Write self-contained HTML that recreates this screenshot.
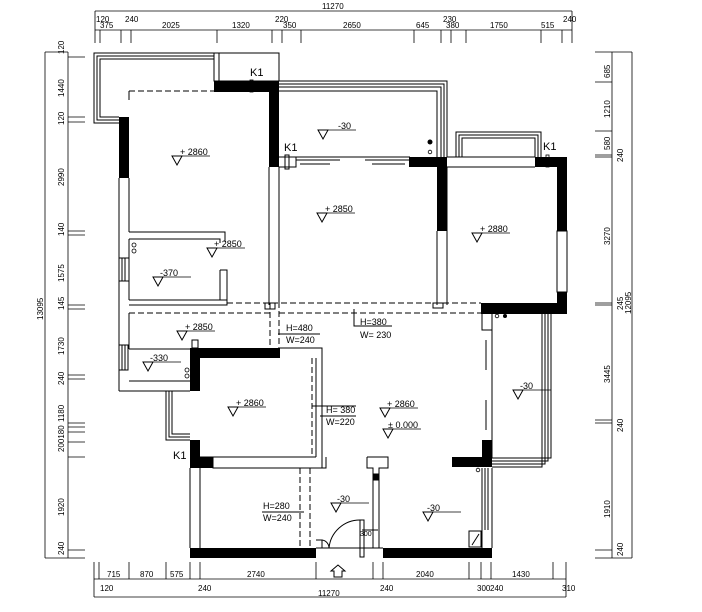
<!DOCTYPE html>
<html><head><meta charset="utf-8"><style>
html,body{margin:0;padding:0;background:#fff}
svg{display:block}
text{font-family:"Liberation Sans",sans-serif;fill:#000}
.d{font-size:8px}
.l{font-size:9px}
</style></head><body>
<svg width="702" height="612" viewBox="0 0 702 612" xmlns="http://www.w3.org/2000/svg">
<defs>
<g id="el"><polygon points="0,0 10,0 5,9" fill="none" stroke="#000" stroke-width="1"/><line x1="4" y1="0" x2="38" y2="0" stroke="#000" stroke-width="0.8"/></g>
</defs>
<g stroke="#000" stroke-width="0.8" fill="none">
<!-- top dims -->
<line x1="95" y1="11" x2="572" y2="11"/>
<line x1="95" y1="30" x2="572" y2="30"/>
<path d="M95 30V43 M100 30V43 M121 30V43 M131 30V43 M217 30V43 M272 30V43 M282 30V43 M301 30V43 M414 30V43 M441 30V43 M451 30V43 M466 30V43 M541 30V43 M562 30V43 M572 30V43 M95 11V30 M572 11V30"/>
<!-- left dims -->
<line x1="45" y1="52" x2="45" y2="558"/>
<line x1="68" y1="52" x2="68" y2="558"/>
<path d="M45 52H68 M45 558H68 M68 57H85 M68 117H85 M68 122H85 M68 231H85 M68 235H85 M68 305H85 M68 309H85 M68 375H85 M68 379H85 M68 423H85 M68 427H85 M68 432H85 M68 442H85 M68 457H85 M68 550H85 M68 558H85"/>
<!-- right dims -->
<line x1="612" y1="52" x2="612" y2="558"/>
<line x1="632" y1="52" x2="632" y2="558"/>
<path d="M595 52H632 M595 82H612 M595 131H612 M595 155H612 M595 157H612 M595 303H612 M595 305H612 M595 420H612 M595 423H612 M595 550H612 M595 558H632"/>
<!-- bottom dims -->
<line x1="94" y1="579" x2="566" y2="579"/>
<line x1="94" y1="597" x2="566" y2="597"/>
<path d="M94 562V597 M99 562V579 M129 562V579 M166 562V579 M190 562V579 M200 562V579 M316 562V579 M373 562V579 M383 562V579 M469 562V579 M481 562V579 M491 562V579 M553 562V579 M566 562V597"/>
</g>
<g class="d">
<text x="322" y="9">11270</text>
<text x="96" y="22">120</text><text x="100" y="28">375</text><text x="125" y="22">240</text>
<text x="162" y="28">2025</text><text x="232" y="28">1320</text><text x="275" y="22">220</text><text x="283" y="28">350</text>
<text x="343" y="28">2650</text><text x="416" y="28">645</text><text x="443" y="22">230</text><text x="446" y="28">380</text>
<text x="490" y="28">1750</text><text x="541" y="28">515</text><text x="563" y="22">240</text>
<text x="107" y="577">715</text><text x="140" y="577">870</text><text x="170" y="577">575</text><text x="247" y="577">2740</text>
<text x="416" y="577">2040</text><text x="512" y="577">1430</text>
<text x="100" y="591">120</text><text x="198" y="591">240</text><text x="380" y="591">240</text><text x="477" y="591">300</text><text x="490" y="591">240</text><text x="562" y="591">310</text>
<text x="318" y="596">11270</text>
</g>
<g class="d">
<text transform="translate(64,54) rotate(-90)">120</text>
<text transform="translate(64,97) rotate(-90)">1440</text>
<text transform="translate(64,125) rotate(-90)">120</text>
<text transform="translate(64,186) rotate(-90)">2990</text>
<text transform="translate(64,236) rotate(-90)">140</text>
<text transform="translate(64,282) rotate(-90)">1575</text>
<text transform="translate(64,310) rotate(-90)">145</text>
<text transform="translate(64,355) rotate(-90)">1730</text>
<text transform="translate(64,385) rotate(-90)">240</text>
<text transform="translate(64,422) rotate(-90)">1180</text>
<text transform="translate(64,452) rotate(-90)">200180</text>
<text transform="translate(64,516) rotate(-90)">1920</text>
<text transform="translate(64,555) rotate(-90)">240</text>
<text transform="translate(43,320) rotate(-90)">13095</text>
<text transform="translate(610,78) rotate(-90)">685</text>
<text transform="translate(610,118) rotate(-90)">1210</text>
<text transform="translate(610,150) rotate(-90)">580</text>
<text transform="translate(623,162) rotate(-90)">240</text>
<text transform="translate(610,245) rotate(-90)">3270</text>
<text transform="translate(623,310) rotate(-90)">245</text>
<text transform="translate(631,314) rotate(-90)">12095</text>
<text transform="translate(610,383) rotate(-90)">3445</text>
<text transform="translate(623,432) rotate(-90)">240</text>
<text transform="translate(610,518) rotate(-90)">1910</text>
<text transform="translate(623,556) rotate(-90)">240</text>
</g>
<!-- plan thin lines -->
<g stroke="#000" stroke-width="1" fill="none">
<!-- top-left balcony -->
<path d="M214 81V53H94V123H119"/>
<path d="M214 56H97V120H119"/>
<path d="M214 59H100V117H119"/>
<rect x="214" y="53" width="65" height="28"/>
<line x1="219" y1="53" x2="219" y2="81"/>
<!-- bedroom left -->
<path d="M119 178V391 M129 178V232 M129 232H225V242"/>
<path d="M129 91H214" stroke-dasharray="6,3"/>
<path d="M129 91V100"/>
<!-- bathroom top-left -->
<path d="M129 239H220V243 M129 239V300 M220 270V300H227V270H220 M129 300H227 M129 305H227V300"/>
<rect x="119" y="258" width="10" height="23"/><path d="M122 258V281 M125 258V281"/>
<!-- column between -->
<path d="M269 167V305 M279 167V305"/><rect x="265" y="303" width="10" height="6"/>
<!-- living balcony -->
<path d="M279 81H447V157 M279 84H444V157 M279 87H441V157 M279 91H437V157"/>
<!-- sliding door -->
<path d="M279 157H410 M279 167H296V157 M296 160H340 M365 160H410"/>
<rect x="285" y="155" width="4" height="14"/>
<path d="M300 164H330 M372 164H405"/>
<!-- right room -->
<path d="M437 231V305 M447 167V305"/><rect x="433" y="303" width="10" height="5"/>
<path d="M447 157H535 M447 167H535"/>
<path d="M456 157V132H541V157 M459 157V135H538V157 M462 157V138H535V157"/>
<rect x="557" y="231" width="10" height="61"/>
<!-- dashed lines middle -->
<g stroke-dasharray="6,3">
<path d="M227 303H481 M129 313H270 M279 313H481"/>
<path d="M279 167V350 M270 303V350"/>
<path d="M312 358V457"/>
<path d="M300 468V548 M310 468V548"/>
</g>
<!-- middle left rooms -->
<path d="M129 313V349 M129 349H190 M129 381H190 M119 391H190"/>
<rect x="119" y="345" width="9" height="25"/><path d="M122 345V370 M125 345V370"/>
<rect x="192" y="340" width="6" height="8"/>
<path d="M166 391V440H190 M169 391V437H190 M172 391V434H190"/>
<!-- bedroom middle -->
<path d="M280 348H322V467 M316 358V457 M200 457H316 M322 467V468"/>
<path d="M213 457V468H326V457"/>
<!-- lower left room -->
<path d="M190 468V548 M200 468V548"/>
<!-- door -->
<path d="M316 548H383 M316 540H322V548 M360 520V557H364V520Z"/>
<path d="M329 548A31 31 0 0 1 360 520"/>
<path d="M322 540A8 8 0 0 1 329 548"/>
<!-- T partition -->
<path d="M367 457H388V468H379V548 M367 457V468H373V548"/>
<rect x="374" y="474" width="4" height="6" fill="#000"/>
<path d="M362 530H378"/>
<!-- right lower balcony -->
<path d="M492 313V458 M542 313V467H492 M545 313V464H492 M548 313V461H492 M551 313V458H492"/>
<path d="M482 313V330H492 M486 340V370 M486 400V430"/>
<path d="M482 468V548 M492 468V548 M485 468V530 M488 468V530"/>
<rect x="469" y="531" width="12" height="16"/>
<path d="M472 545L479 534"/>
<!-- leader lines -->
<path d="M354 309V326H392"/>
<path d="M278 334H320"/>
<path d="M312 406H356 M262 512H304 M320 416H356"/>
<!-- entry arrow -->
<path d="M338 565L331 571H334V577H342V571H345Z"/>
</g>
<!-- black walls -->
<g fill="#000">
<rect x="214" y="81" width="65" height="11"/>
<rect x="269" y="81" width="10" height="86"/>
<rect x="119" y="117" width="10" height="61"/>
<rect x="409" y="157" width="38" height="10"/>
<rect x="437" y="157" width="10" height="74"/>
<rect x="535" y="157" width="32" height="10"/>
<rect x="557" y="157" width="10" height="74"/>
<rect x="557" y="292" width="10" height="22"/>
<rect x="481" y="303" width="86" height="11"/>
<rect x="190" y="348" width="90" height="10"/>
<rect x="190" y="348" width="10" height="43"/>
<rect x="190" y="440" width="10" height="28"/>
<rect x="190" y="457" width="23" height="11"/>
<rect x="482" y="440" width="10" height="27"/>
<rect x="452" y="457" width="40" height="10"/>
<rect x="190" y="548" width="126" height="10"/>
<rect x="383" y="548" width="109" height="10"/>
<circle cx="430" cy="142" r="2.5"/><circle cx="505" cy="316" r="2"/>
</g>
<g fill="none" stroke="#000" stroke-width="0.8">
<circle cx="430" cy="152" r="1.8"/><circle cx="497" cy="316" r="1.8"/><circle cx="478" cy="470" r="1.8"/>
<circle cx="134" cy="245" r="2"/><circle cx="134" cy="251" r="2"/>
<circle cx="187" cy="370" r="2"/><circle cx="187" cy="376" r="2"/>
<rect x="250" y="80" width="3" height="12"/><rect x="546" y="155" width="3" height="12"/>
</g>
<!-- elevation marks -->
<use href="#el" x="172" y="156"/><use href="#el" x="207" y="248"/><use href="#el" x="153" y="277"/>
<use href="#el" x="318" y="130"/><use href="#el" x="317" y="213"/><use href="#el" x="472" y="233"/>
<use href="#el" x="177" y="331"/><use href="#el" x="143" y="362"/><use href="#el" x="228" y="407"/>
<use href="#el" x="380" y="408"/><use href="#el" x="383" y="429"/><use href="#el" x="513" y="390"/>
<use href="#el" x="331" y="503"/><use href="#el" x="423" y="512"/>
<g class="l">
<text x="180" y="155">+ 2860</text><text x="214" y="247">+ 2850</text><text x="160" y="276">-370</text>
<text x="338" y="129">-30</text><text x="325" y="212">+ 2850</text><text x="480" y="232">+ 2880</text>
<text x="185" y="330">+ 2850</text><text x="150" y="361">-330</text><text x="236" y="406">+ 2860</text>
<text x="387" y="407">+ 2860</text><text x="388" y="428">± 0.000</text><text x="520" y="389">-30</text>
<text x="337" y="502">-30</text><text x="427" y="511">-30</text>
<text x="286" y="331">H=480</text><text x="286" y="343">W=240</text>
<text x="360" y="325">H=380</text><text x="360" y="338">W= 230</text>
<text x="326" y="413">H= 380</text><text x="326" y="425">W=220</text>
<text x="263" y="509">H=280</text><text x="263" y="521">W=240</text>
<text x="360" y="536" style="font-size:7px">300</text>
</g>
<g style="font-family:'Liberation Serif',serif;font-size:11px">
<text x="250" y="76">K1</text><text x="284" y="151">K1</text><text x="543" y="150">K1</text><text x="173" y="459">K1</text>
</g>
</svg>
</body></html>
